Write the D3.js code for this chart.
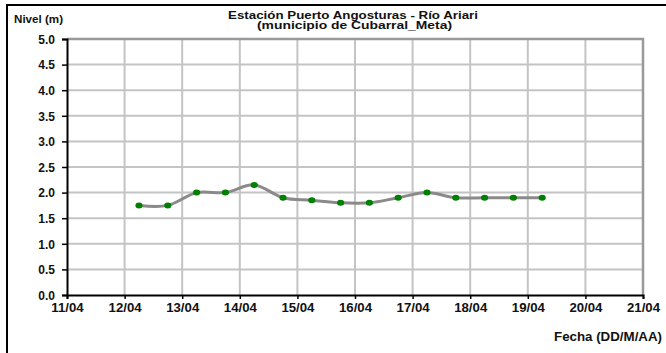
<!DOCTYPE html>
<html><head><meta charset="utf-8">
<script src="https://cdn.jsdelivr.net/npm/d3@7"></script>
<style>
html,body{margin:0;padding:0;background:#fff;}
svg{display:block;font-family:"Liberation Sans",Arial,sans-serif;font-weight:bold;}
</style></head>
<body>
<svg id="chart" width="666" height="353"></svg>
<script>
// Data (day of April, fractional) and level in metres
const days   = [12.25, 12.75, 13.25, 13.75, 14.25, 14.75, 15.25, 15.75, 16.25, 16.75, 17.25, 17.75, 18.25, 18.75, 19.25];
const levels = [1.75, 1.75, 2.0, 2.0, 2.15, 1.9, 1.85, 1.8, 1.8, 1.9, 2.0, 1.9, 1.9, 1.9, 1.9];
const xTickDays   = [11, 12, 13, 14, 15, 16, 17, 18, 19, 20, 21];
const xTickLabels = ["11/04","12/04","13/04","14/04","15/04","16/04","17/04","18/04","19/04","20/04","21/04"];
const yTicks = [0, 0.5, 1, 1.5, 2, 2.5, 3, 3.5, 4, 4.5, 5];
const titleLines = ["Estación Puerto Angosturas - Río Ariari", "(municipio de Cubarral_Meta)"];

const svg = d3.select("#chart");
const L = 67, R = 643, T = 39, B = 295;
const x = d3.scaleLinear().domain([11, 21]).range([L, R]);
const y = d3.scaleLinear().domain([0, 5]).range([B, T]);

// stretch helper: widen text horizontally by a factor
function stretch(sel, f) {
  sel.each(function() {
    const len = this.getComputedTextLength();
    d3.select(this).attr("textLength", len * f).attr("lengthAdjust", "spacingAndGlyphs");
  });
}

// outer frame
svg.append("rect").attr("x", 7).attr("y", 5).attr("width", 670).attr("height", 360)
  .attr("fill", "none").attr("stroke", "#000").attr("stroke-width", 2);

// gridlines
svg.append("g").selectAll("line").data(yTicks.slice(1)).join("line")
  .attr("x1", L).attr("x2", R).attr("y1", d => y(d)).attr("y2", d => y(d))
  .attr("stroke", "#c4c4c4").attr("stroke-width", 2);
svg.append("g").selectAll("line").data(xTickDays.slice(1, -1)).join("line")
  .attr("y1", T).attr("y2", B).attr("x1", d => x(d)).attr("x2", d => x(d))
  .attr("stroke", "#c4c4c4").attr("stroke-width", 2);

// plot border top/right
svg.append("path").attr("d", `M${L},${T}H${R}V${B}`).attr("fill", "none")
  .attr("stroke", "#999").attr("stroke-width", 2.5);

// axes
const xAxis = d3.axisBottom(x).tickValues(xTickDays).tickFormat((d, i) => xTickLabels[i]).tickSize(4).tickPadding(4);
const gx = svg.append("g").attr("transform", `translate(0,${B})`).call(xAxis);
const yAxis = d3.axisLeft(y).tickValues(yTicks).tickFormat(d3.format(".1f")).tickSize(5).tickPadding(7);
const gy = svg.append("g").attr("transform", `translate(${L},0)`).call(yAxis);
[gx, gy].forEach(g => {
  g.select(".domain").attr("stroke", "#000").attr("stroke-width", 2);
  g.selectAll(".tick line").attr("stroke", "#000").attr("stroke-width", 1.5);
  g.selectAll(".tick text").attr("fill", "#111").style("font-size", "12px")
    .style("font-family", "'Liberation Sans',Arial,sans-serif").style("font-weight", "bold");
});
gy.selectAll(".tick text").attr("dy", "0.36em");
stretch(gx.selectAll(".tick text"), 1.1);

// line
const line = d3.line().x((d, i) => x(days[i])).y(d => y(d)).curve(d3.curveCardinal.tension(0));
svg.append("path").datum(levels).attr("d", line).attr("fill", "none")
  .attr("stroke", "#8a8a8a").attr("stroke-width", 3);

// markers
svg.append("g").selectAll("ellipse").data(levels).join("ellipse")
  .attr("cx", (d, i) => x(days[i])).attr("cy", d => y(d))
  .attr("rx", 3.6).attr("ry", 3).attr("fill", "#008000");

// texts
svg.append("text").attr("x", 353).attr("y", 18.5).attr("text-anchor", "middle")
  .style("font-size", "10px").attr("fill", "#111").text(titleLines[0])
  .attr("textLength", 250).attr("lengthAdjust", "spacingAndGlyphs");
svg.append("text").attr("x", 354.5).attr("y", 29).attr("text-anchor", "middle")
  .style("font-size", "10px").attr("fill", "#111").text(titleLines[1])
  .attr("textLength", 195).attr("lengthAdjust", "spacingAndGlyphs");
svg.append("text").attr("x", 14).attr("y", 22.5).style("font-size", "10.5px").attr("fill", "#111").text("Nivel (m)")
  .attr("textLength", 49).attr("lengthAdjust", "spacingAndGlyphs");
svg.append("text").attr("x", 662).attr("y", 341).attr("text-anchor", "end")
  .style("font-size", "12px").attr("fill", "#111").text("Fecha (DD/M/AA)")
  .attr("textLength", 108).attr("lengthAdjust", "spacingAndGlyphs");
</script>
</body></html>
